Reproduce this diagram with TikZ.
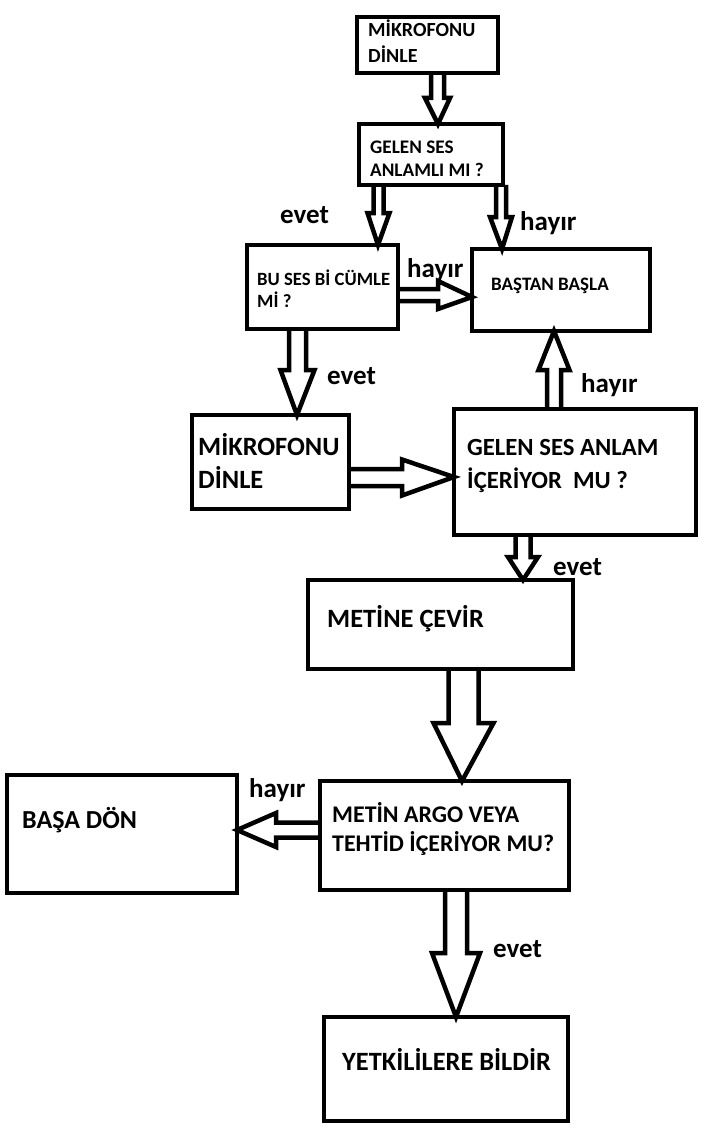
\documentclass[tikz,border=0pt]{standalone}
\usepackage{fontspec}
\setmainfont{Carlito}
\usetikzlibrary{calc}
\tikzset{
  box/.style={draw, line width=4.5pt, inner sep=0pt, outer sep=0pt, anchor=north west},
  barrow/.style={draw, line width=4.5pt, line join=miter, miter limit=20},
  txt/.style={anchor=base west, inner sep=0pt, align=left, font=\bfseries},
  lbl/.style={anchor=base west, inner sep=0pt, font=\fontsize{27}{30}\selectfont\bfseries}
}
% block arrows: #1 start, #2 tip, #3 half shaft, #4 half head, #5 head length
\newcommand\barD[5]{\draw[barrow] let \p1=(#1), \p2=(#2) in
  (\x1-#3pt,\y1) -- (\x1-#3pt,\y2+#5pt) -- (\x1-#4pt,\y2+#5pt) -- (\x2,\y2)
  -- (\x1+#4pt,\y2+#5pt) -- (\x1+#3pt,\y2+#5pt) -- (\x1+#3pt,\y1);}
\newcommand\barU[5]{\draw[barrow] let \p1=(#1), \p2=(#2) in
  (\x1-#3pt,\y1) -- (\x1-#3pt,\y2-#5pt) -- (\x1-#4pt,\y2-#5pt) -- (\x2,\y2)
  -- (\x1+#4pt,\y2-#5pt) -- (\x1+#3pt,\y2-#5pt) -- (\x1+#3pt,\y1);}
\newcommand\barR[5]{\draw[barrow] let \p1=(#1), \p2=(#2) in
  (\x1,\y1+#3pt) -- (\x2-#5pt,\y1+#3pt) -- (\x2-#5pt,\y1+#4pt) -- (\x2,\y2)
  -- (\x2-#5pt,\y1-#4pt) -- (\x2-#5pt,\y1-#3pt) -- (\x1,\y1-#3pt);}
\newcommand\barL[5]{\draw[barrow] let \p1=(#1), \p2=(#2) in
  (\x1,\y1+#3pt) -- (\x2+#5pt,\y1+#3pt) -- (\x2+#5pt,\y1+#4pt) -- (\x2,\y2)
  -- (\x2+#5pt,\y1-#4pt) -- (\x2+#5pt,\y1-#3pt) -- (\x1,\y1-#3pt);}
\begin{document}
\begin{tikzpicture}[x=1pt,y=-1pt]
\useasboundingbox (0,0) rectangle (712,1142);
% boxes
\node[box, minimum width=141pt, minimum height=56pt] (b1) at (357,17) {};
\node[box, minimum width=144pt, minimum height=61pt] (b2) at (359,124) {};
\node[box, minimum width=151pt, minimum height=84pt] (b3) at (247,245) {};
\node[box, minimum width=178pt, minimum height=82pt] (b4) at (472,249) {};
\node[box, minimum width=157pt, minimum height=94pt] (b5) at (192,415) {};
\node[box, minimum width=242pt, minimum height=126pt] (b6) at (454,409) {};
\node[box, minimum width=265pt, minimum height=89pt] (b7) at (308,580) {};
\node[box, minimum width=249pt, minimum height=109pt] (b8) at (320,781) {};
\node[box, minimum width=230pt, minimum height=118pt] (b9) at (7,775) {};
\node[box, minimum width=244pt, minimum height=104pt] (b10) at (324,1017) {};
% texts (multi-line nodes: base = last line)
\node[txt, font=\fontsize{20}{26}\selectfont\bfseries] (t1) at (368,63) {MİKROFONU\\DİNLE};
\node[txt, font=\fontsize{19.2}{23}\selectfont\bfseries] (t2) at (370,177) {GELEN SES\\ANLAMLI MI ?};
\node[txt, font=\fontsize{18.7}{22}\selectfont\bfseries] (t3) at (257,307) {BU SES Bİ CÜMLE\\Mİ ?};
\node[txt, font=\fontsize{19}{22}\selectfont\bfseries] (t4) at (491,290) {BAŞTAN BAŞLA};
\node[txt, font=\fontsize{26.4}{33}\selectfont\bfseries] (t5) at (198,488) {MİKROFONU\\DİNLE};
\node[txt, font=\fontsize{24.7}{33}\selectfont\bfseries] (t6) at (467,488) {GELEN SES ANLAM\\İÇERİYOR~~MU ?};
\node[txt, font=\fontsize{26.4}{30}\selectfont\bfseries] (t7) at (327,627) {METİNE ÇEVİR};
\node[txt, font=\fontsize{23.9}{29}\selectfont\bfseries] (t8) at (332,851) {METİN ARGO VEYA\\TEHTİD İÇERİYOR MU?};
\node[txt, font=\fontsize{26}{30}\selectfont\bfseries] (t9) at (22,828) {BAŞA DÖN};
\node[txt, font=\fontsize{26.4}{30}\selectfont\bfseries] (t10) at (342,1070) {YETKİLİLERE BİLDİR};
% labels
\node[lbl] (l1) at (280,223) {evet};
\node[lbl] (l2) at (520,230) {hayır};
\node[lbl] (l3) at (407,277) {hayır};
\node[lbl] (l4) at (327,384) {evet};
\node[lbl] (l5) at (581,392) {hayır};
\node[lbl] (l6) at (553,575) {evet};
\node[lbl] (l7) at (249,797) {hayır};
\node[lbl] (l8) at (493,957) {evet};
% block arrows
\barD{437.5,0 |- b1.south}{438,0 |- b2.north}{6.5}{12.5}{26}
\barD{378.5,0 |- b2.south}{378,0 |- b3.north}{5}{11}{32}
\barD{501,0 |- b2.south}{502,0 |- b4.north}{5}{11}{32}
\barR{b3.east |- 0,295}{b4.west |- 0,297}{6}{14}{34}
\barD{297.5,0 |- b3.south}{297,0 |- b5.north}{8.5}{17}{45}
\barR{b5.east |- 0,477.5}{b6.west |- 0,477}{8.5}{18}{52}
\barU{554,0 |- b6.north}{554,0 |- b4.south}{7}{15.5}{39}
\barD{523,0 |- b6.south}{523,0 |- b7.north}{7.5}{15}{23}
\barD{463.5,0 |- b7.south}{462,0 |- b8.north}{15}{30}{58}
\barL{b8.west |- 0,830}{b9.east |- 0,830}{7.5}{17}{39}
\barD{456,0 |- b8.south}{456,0 |- b10.north}{11}{24}{64}
\end{tikzpicture}
\end{document}
